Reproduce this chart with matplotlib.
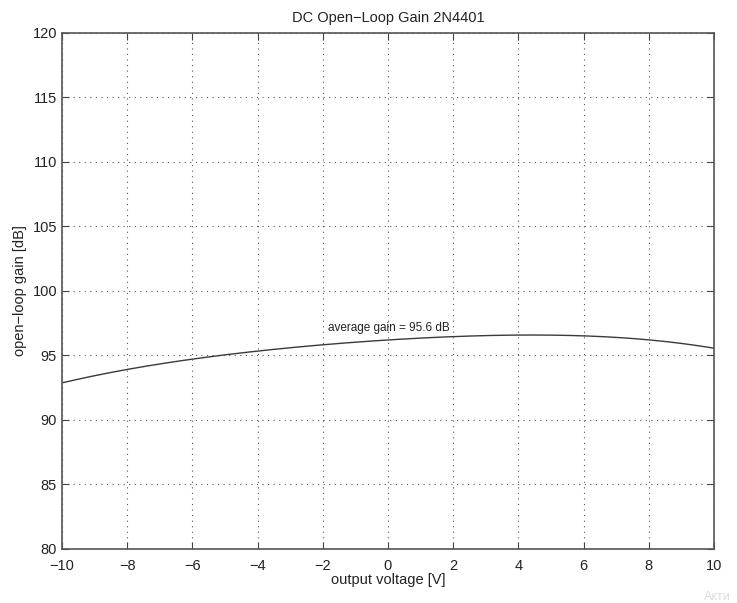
import numpy as np
import matplotlib
matplotlib.use("Agg")
import matplotlib.pyplot as plt

# kurve lest av fra bildet
volt = [-10, -9, -8, -7, -6, -5, -4, -3, -2, -1, 0, 1, 2, 3, 4, 5, 6, 7, 8, 9, 10]
gain = [92.9, 93.4, 93.9, 94.35, 94.75, 95.05, 95.3, 95.6, 95.85, 96.05, 96.2,
        96.35, 96.45, 96.53, 96.58, 96.58, 96.5, 96.4, 96.24, 95.95, 95.54]

xticks = [-10, -8, -6, -4, -2, 0, 2, 4, 6, 8, 10]
yticks = [80, 85, 90, 95, 100, 105, 110, 115, 120]

plt.rcParams['font.family'] = ['Liberation Sans', 'DejaVu Sans']

fig = plt.figure(figsize=(7.37, 6.03), dpi=100)
ax = fig.add_axes([0.0841, 0.0896, 0.8847, 0.8557])

# glatt kurve gjennom punktene
xs = np.linspace(-10, 10, 400)
cs = np.polyfit(volt, gain, 4)
ax.plot(xs, np.polyval(cs, xs), color='#3a3a3a', lw=1.0)

ax.text(-1.85, 97.1, 'average gain = 95.6 dB', fontsize=8.5, va='center', color='#222222')

ax.set_xlim(-10, 10)
ax.set_ylim(80, 120)
ax.set_xticks(xticks)
ax.set_yticks(yticks)
ax.grid(True, linestyle=(0, (1, 4)), color='#555555', lw=0.8)
ax.tick_params(direction='in', top=True, right=True, length=5, labelsize=10.5,
               color='#444444', labelcolor='#222222')
ax.tick_params(axis='x', pad=7)
for s in ax.spines.values():
    s.set_color('#555555')
    s.set_linewidth(1.2)

ax.set_title('DC Open\u2212Loop Gain 2N4401', fontsize=10.5, color='#222222', pad=8)
ax.set_xlabel('output voltage [V]', fontsize=10.5, color='#222222', labelpad=0)
ax.set_ylabel('open\u2212loop gain [dB]', fontsize=10.5, color='#222222', labelpad=4)

fig.text(0.955, 0.005, 'Акти', fontsize=9, color='#dddddd')

fig.savefig('out.png', dpi=100)
